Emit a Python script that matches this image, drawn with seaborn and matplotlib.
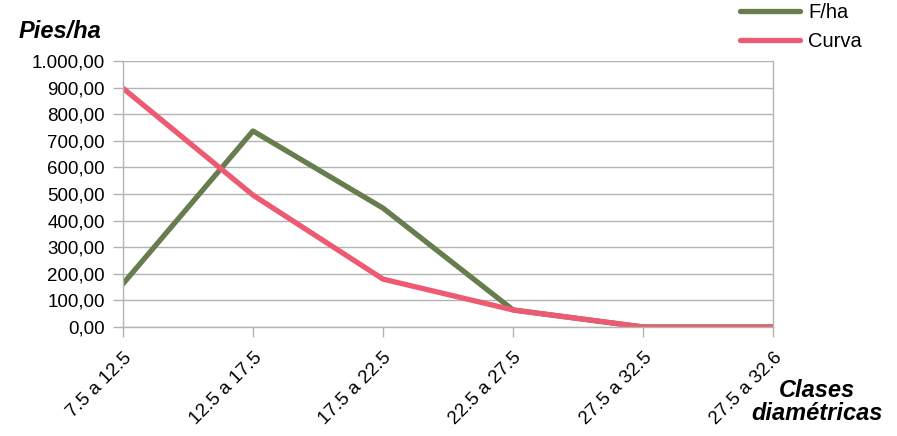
import pandas as pd
import numpy as np
import matplotlib
matplotlib.use("Agg")
import matplotlib.pyplot as plt
import seaborn as sns
from matplotlib.lines import Line2D

clases = ["7.5 a 12.5", "12.5 a 17.5", "17.5 a 22.5", "22.5 a 27.5", "27.5 a 32.5", "27.5 a 32.6"]
f_ha = [162, 737, 447, 64, 0, 0]
curva = [898, 496, 180, 64, 0, 0]
yticks = np.arange(0, 1001, 100)
colores = {"F/ha": "#677d4d", "Curva": "#ee5a72"}

sns.set_theme(style="white")
plt.rcParams["font.family"] = ["Liberation Sans", "DejaVu Sans"]
plt.rcParams["text.color"] = "black"

df = pd.DataFrame({"Clase": clases * 2,
                   "Valor": f_ha + curva,
                   "Serie": ["F/ha"] * len(clases) + ["Curva"] * len(clases)})

fig = plt.figure(figsize=(8.97, 4.36), dpi=100)
ax = fig.add_axes([0.137, 0.25, 0.725, 0.61])

sns.lineplot(data=df, x="Clase", y="Valor", hue="Serie", sort=False,
             palette=colores, linewidth=3.8, ax=ax, legend=False)

ax.set_xlim(0, len(clases) - 1)
ax.set_ylim(0, 1000)
ax.set_yticks(yticks)
# formato espanol: 1.000,00
ax.set_yticklabels([f"{v:,.2f}".replace(",", "X").replace(".", ",").replace("X", ".") for v in yticks])
ax.set_xticks(range(len(clases)))
ax.set_xticklabels(clases, rotation=45, ha="right", rotation_mode="anchor")
ax.tick_params(axis="both", labelsize=13.5, colors="#b3b3b3", labelcolor="black",
               length=7, width=1, direction="out", bottom=True, left=True)
ax.tick_params(axis="x", pad=9)
ax.tick_params(axis="y", pad=6)
ax.grid(axis="y", color="#b3b3b3", linewidth=1)
ax.set_axisbelow(True)
for side in ["left", "bottom", "right"]:
    ax.spines[side].set_color("#b3b3b3")
    ax.spines[side].set_linewidth(1)
ax.spines["top"].set_visible(False)
ax.set_xlabel("")
ax.set_ylabel("")

fig.text(0.021, 0.927, "Pies/ha", fontsize=17, fontweight="bold", fontstyle="italic",
         va="center", color="black")
fig.text(0.911, 0.078, "Clases\ndiamétricas", fontsize=17, fontweight="bold", fontstyle="italic",
         ha="center", va="center", linespacing=1.0, color="black")

handles = [Line2D([], [], color=colores[k], linewidth=3.8) for k in colores]
leg = fig.legend(handles, list(colores), loc="upper left", bbox_to_anchor=(0.825, 0.992),
                 frameon=False, fontsize=14.5, handlelength=3.0, handletextpad=0.4,
                 labelspacing=0.45, borderpad=0, borderaxespad=0)
for t in leg.get_texts():
    t.set_color("black")

fig.savefig("out.png", dpi=100)
